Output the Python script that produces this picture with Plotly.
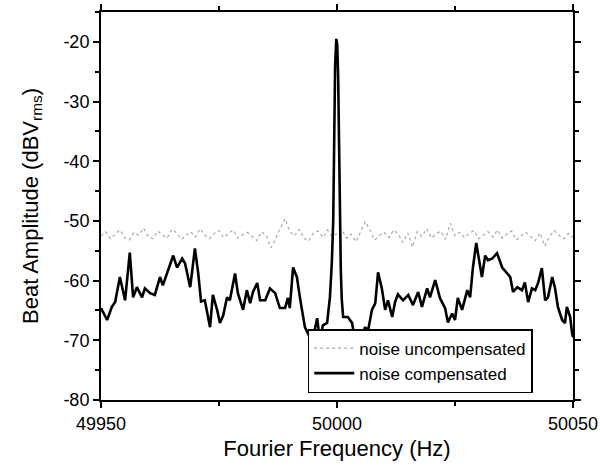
import plotly.graph_objects as go

# Fourier frequency offsets (Hz above 49950) and compensated beat amplitude (dBV_rms)
comp_offset = [0.0, 1.3, 2.3, 3.0, 4.0, 5.1, 6.1, 6.8, 7.6, 8.7, 9.3, 10.4, 11.4, 12.5, 13.1,
               14.2, 15.3, 16.1, 17.2, 17.8, 18.9, 19.9, 20.6, 21.2, 22.0, 23.1, 23.7, 24.6,
               25.2, 25.9, 26.7, 27.3, 28.4, 29.0, 30.1, 30.9, 31.6, 32.2, 33.1, 33.7, 34.8,
               35.8, 36.9, 37.9, 39.0, 39.6, 40.0, 40.7, 41.5, 42.2, 43.2, 44.3, 44.9, 45.8,
               46.4, 47.0, 47.9, 48.5, 48.9, 49.2, 49.4, 49.6, 49.85, 50.05, 50.25, 50.45, 50.6,
               50.8, 51.0, 51.3, 52.3, 53.2, 53.8, 54.5, 55.3, 55.9, 56.6, 57.4, 58.1, 58.7,
               59.5, 60.2, 60.8, 61.7, 62.3, 62.9, 64.0, 65.1, 66.1, 67.2, 68.0, 69.1, 69.7,
               70.8, 71.8, 72.9, 73.5, 74.4, 75.0, 75.6, 76.5, 77.6, 78.2, 78.8, 79.5, 80.1,
               80.7, 81.4, 82.0, 82.9, 83.9, 85.0, 86.0, 86.7, 87.3, 88.2, 89.2, 89.8, 90.5,
               91.3, 92.0, 92.6, 93.4, 94.1, 94.7, 95.6, 96.2, 96.8, 97.7, 98.3, 98.7, 99.4,
               99.8, 100.0]
comp_values = [-64.6, -66.6, -64.4, -63.6, -59.4, -63.3, -55.3, -62.8, -61.1, -62.8, -61.3,
               -62.1, -62.4, -59.4, -60.8, -58.3, -55.8, -57.8, -56.3, -57.1, -61.1, -54.6,
               -58.8, -63.5, -63.3, -67.8, -62.4, -64.9, -67.1, -65.8, -62.8, -63.3, -58.8,
               -62.1, -64.9, -61.6, -63.8, -61.9, -60.4, -63.3, -63.3, -61.3, -62.1, -64.6,
               -64.6, -62.9, -64.6, -57.8, -59.4, -63.1, -67.8, -69.6, -69.6, -66.3, -70.3,
               -67.5, -67.1, -62.8, -57.0, -50.0, -36.0, -24.0, -19.5, -20.5, -26.0, -38.0,
               -50.0, -58.0, -63.0, -66.1, -66.1, -67.1, -70.0, -71.1, -70.8, -67.8, -68.3,
               -64.9, -63.8, -58.6, -61.3, -64.9, -63.3, -66.1, -63.6, -62.3, -63.3, -62.4,
               -64.1, -61.9, -64.4, -61.3, -62.8, -59.9, -62.9, -64.6, -67.0, -65.5, -66.6,
               -62.9, -64.9, -61.6, -62.8, -57.8, -53.7, -56.6, -59.4, -55.8, -56.6, -56.3,
               -55.4, -57.8, -58.8, -59.4, -61.9, -61.1, -61.6, -60.3, -63.6, -61.3, -61.6,
               -60.4, -57.9, -63.3, -62.8, -59.4, -61.3, -64.4, -66.6, -67.1, -64.4, -66.1,
               -68.8, -69.5]

# Uncompensated noise, 1 Hz spacing from 49950 to 50050
uncomp_values = [-52.5, -51.8, -53.0, -52.2, -51.5, -52.8, -53.2, -51.9, -52.4, -51.2, -52.6,
                 -53.0, -51.7, -52.3, -52.9, -51.4, -52.0, -53.1, -52.5, -51.8, -52.7,
                 -51.3, -52.4, -53.0, -52.1, -51.6, -52.8, -52.2, -51.5, -52.9, -52.3,
                 -51.9, -52.6, -53.3, -51.8, -52.4, -54.5, -53.0, -51.2, -49.6, -51.8,
                 -52.5, -51.4, -52.9, -53.4, -52.0, -51.7, -52.8, -51.5, -52.6, -52.1,
                 -51.4, -52.9, -52.2, -53.5, -51.8, -50.1, -51.6, -53.2, -52.4, -51.9,
                 -52.8, -51.5, -52.3, -53.6, -52.0, -54.4, -51.8, -52.6, -51.3, -52.9,
                 -52.2, -51.7, -53.1, -50.4, -52.5, -51.9, -52.8, -52.1, -51.6, -53.0,
                 -52.4, -51.8, -52.7, -51.5, -52.9, -52.2, -51.7, -53.2, -52.5, -51.9,
                 -52.6, -53.3, -52.0, -54.2, -52.7, -51.6, -52.4, -53.0, -52.1, -52.8, -52.3]

base_freq = 49950
comp_freq = [base_freq + o for o in comp_offset]
uncomp_freq = [base_freq + i for i in range(len(uncomp_values))]

x_ticks = [49950, 50000, 50050]
y_ticks = [-80, -70, -60, -50, -40, -30, -20]

FONT = "Arial, Liberation Sans, sans-serif"

fig = go.Figure()
fig.add_trace(go.Scatter(x=uncomp_freq, y=uncomp_values, mode="lines",
                         name="noise uncompensated",
                         line=dict(color="#a8a8a8", width=1.2, dash="dot")))
fig.add_trace(go.Scatter(x=comp_freq, y=comp_values, mode="lines",
                         name="noise compensated",
                         line=dict(color="black", width=2.6)))

axis_common = dict(showline=True, linewidth=2, linecolor="black", mirror="ticks",
                   ticks="outside", ticklen=6, tickwidth=2, tickcolor="black",
                   showgrid=False, zeroline=False, automargin=False,
                   tickfont=dict(family=FONT, size=18, color="black"))

fig.update_xaxes(range=[49950, 50050], tickvals=x_ticks,
                 ticktext=[str(v) for v in x_ticks],
                 minor=dict(dtick=25, ticks="outside", ticklen=4, tickwidth=1.5,
                            tickcolor="black", showgrid=False),
                 title=dict(text="Fourier Frequency (Hz)",
                            font=dict(family=FONT, size=22, color="black"), standoff=8),
                 **axis_common)
fig.update_yaxes(range=[-80, -15], tickvals=y_ticks,
                 ticktext=[str(v) for v in y_ticks],
                 minor=dict(dtick=5, ticks="outside", ticklen=4, tickwidth=1.5,
                            tickcolor="black", showgrid=False),
                 title=dict(text="Beat Amplitude (dBV<sub>rms</sub>)",
                            font=dict(family=FONT, size=22, color="black"), standoff=19),
                 **axis_common)

fig.update_layout(
    width=600, height=468,
    margin=dict(l=101, r=27, t=12, b=68, autoexpand=False),
    paper_bgcolor="white", plot_bgcolor="white",
    showlegend=True,
    legend=dict(x=0.438, y=0.018, xanchor="left", yanchor="bottom",
                bgcolor="white", bordercolor="black", borderwidth=1.5,
                font=dict(family=FONT, size=17, color="black"),
                tracegroupgap=0, itemwidth=40),
)

fig.write_html("out.html")
